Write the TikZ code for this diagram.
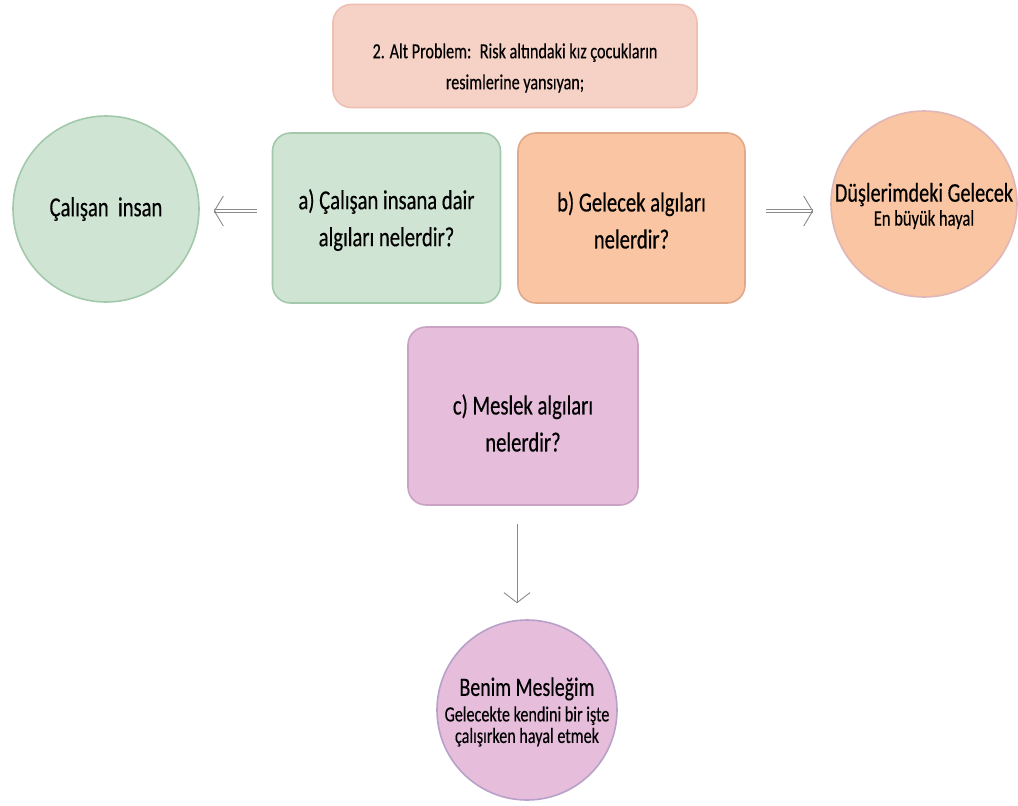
\documentclass[tikz,border=0pt]{standalone}
\usepackage{fontspec}
\setmainfont[FakeStretch=0.75,FakeBold=0.35]{Carlito}
\usetikzlibrary{arrows.meta}

\definecolor{topfill}{HTML}{F6D2C6}
\definecolor{topline}{HTML}{F0BFB4}
\definecolor{greenfill}{HTML}{CFE4D2}
\definecolor{greenline}{HTML}{A3C9AC}
\definecolor{orangefill}{HTML}{F9C5A2}
\definecolor{orangeline}{HTML}{DFA98A}
\definecolor{pinkfill}{HTML}{E6BDDB}
\definecolor{pinkline}{HTML}{C9A3C4}
\definecolor{circpinkline}{HTML}{B7A1C9}
\definecolor{arrowgray}{HTML}{8A8A8A}

\tikzset{
  qbox/.style={draw, line width=1.6pt, rounded corners=18pt, inner sep=0pt},
  qcirc/.style={draw, circle, line width=1.6pt, inner sep=0pt},
  ctext/.style={align=center, inner sep=0pt, text=black},
  shaft2/.style={draw=arrowgray, line width=0.7pt, double=white, double distance=2.4pt},
  shaft1/.style={draw=arrowgray, line width=1pt},
  headbig/.style={draw=arrowgray, line width=0.9pt, -{Straight Barb[length=9pt,width=30pt]}},
  headdown/.style={draw=arrowgray, line width=0.9pt, -{Straight Barb[length=10pt,width=26pt]}},
  big/.style={font=\fontsize{27.5}{37}\selectfont}
}

\begin{document}
\begin{tikzpicture}[x=1pt,y=-1pt]
\useasboundingbox[fill=white] (0,0) rectangle (1018,806);

% heading box
\node[qbox, fill=topfill, draw=topline, minimum width=364pt, minimum height=103pt] (top) at (515,56) {};
\node[ctext, font=\fontsize{21.5}{31}\selectfont] (toptext) at ([yshift=-12pt]top.center)
  {2. Alt Problem:~ Risk altındaki kız çocukların\\resimlerine yansıyan;};

% question boxes
\node[qbox, fill=greenfill, draw=greenline, minimum width=228pt, minimum height=170pt] (boxA) at (386.5,218) {};
\node[ctext, big] (boxAtext) at ([yshift=-2pt]boxA.center) {a) Çalışan insana dair\\algıları nelerdir?};
\node[qbox, fill=orangefill, draw=orangeline, minimum width=227pt, minimum height=170pt] (boxB) at (631.5,218) {};
\node[ctext, big] (boxBtext) at ([yshift=-2pt]boxB.center) {b) Gelecek algıları\\nelerdir?};
\node[qbox, fill=pinkfill, draw=pinkline, minimum width=230pt, minimum height=178pt] (boxC) at (523,416) {};
\node[ctext, big] (boxCtext) at ([yshift=-7pt]boxC.center) {c) Meslek algıları\\nelerdir?};

% result circles
\node[qcirc, fill=greenfill, draw=greenline, minimum size=186pt] (circA) at (106,209) {};
\node[ctext, font=\fontsize{27.5}{30}\selectfont] (circAtext) at (circA.center) {Çalışan~~insan};

\node[qcirc, fill=orangefill, draw=orangeline!80!violet!60, minimum size=186pt] (circB) at (924,204) {};
\node[ctext] (circBtext) at ([yshift=-2pt]circB.center)
  {{\fontsize{27}{28}\selectfont Düşlerimdeki Gelecek}\\[3pt]
   {\fontsize{22}{23}\selectfont En büyük hayal}};

\node[qcirc, fill=pinkfill, draw=circpinkline, minimum size=180pt] (circC) at (527,710) {};
\node[ctext] (circCtext) at ([yshift=-2pt]circC.center)
  {{\fontsize{26.5}{30}\selectfont Benim Mesleğim}\\[5pt]
   {\fontsize{21.5}{24}\selectfont Gelecekte kendini bir işte}\\[2pt]
   {\fontsize{21.5}{24}\selectfont çalışırken hayal etmek}};

% connector end points
\coordinate (aS) at ([yshift=7pt, xshift=-15pt]boxA.west);
\coordinate (aE) at ([xshift=14pt]circA.east);
\coordinate (bS) at ([yshift=7pt, xshift=20pt]boxB.east);
\coordinate (bE) at ([xshift=-17pt]circB.west);
\coordinate (cS) at ([xshift=-6pt, yshift=-18pt]boxC.south);
\coordinate (cE) at ([yshift=16pt]circC.north);

% arrows
\draw[shaft2] (aS) -- (aE |- aS);
\draw[headbig] ([xshift=2pt]aE |- aS) -- (aE |- aS);
\draw[shaft2] (bS) -- (bE |- bS);
\draw[headbig] ([xshift=-2pt]bE |- bS) -- (bE |- bS);
\draw[shaft1] (cS) -- (cS |- cE);
\draw[headdown] ([yshift=2pt]cS |- cE) -- (cS |- cE);
\end{tikzpicture}
\end{document}
